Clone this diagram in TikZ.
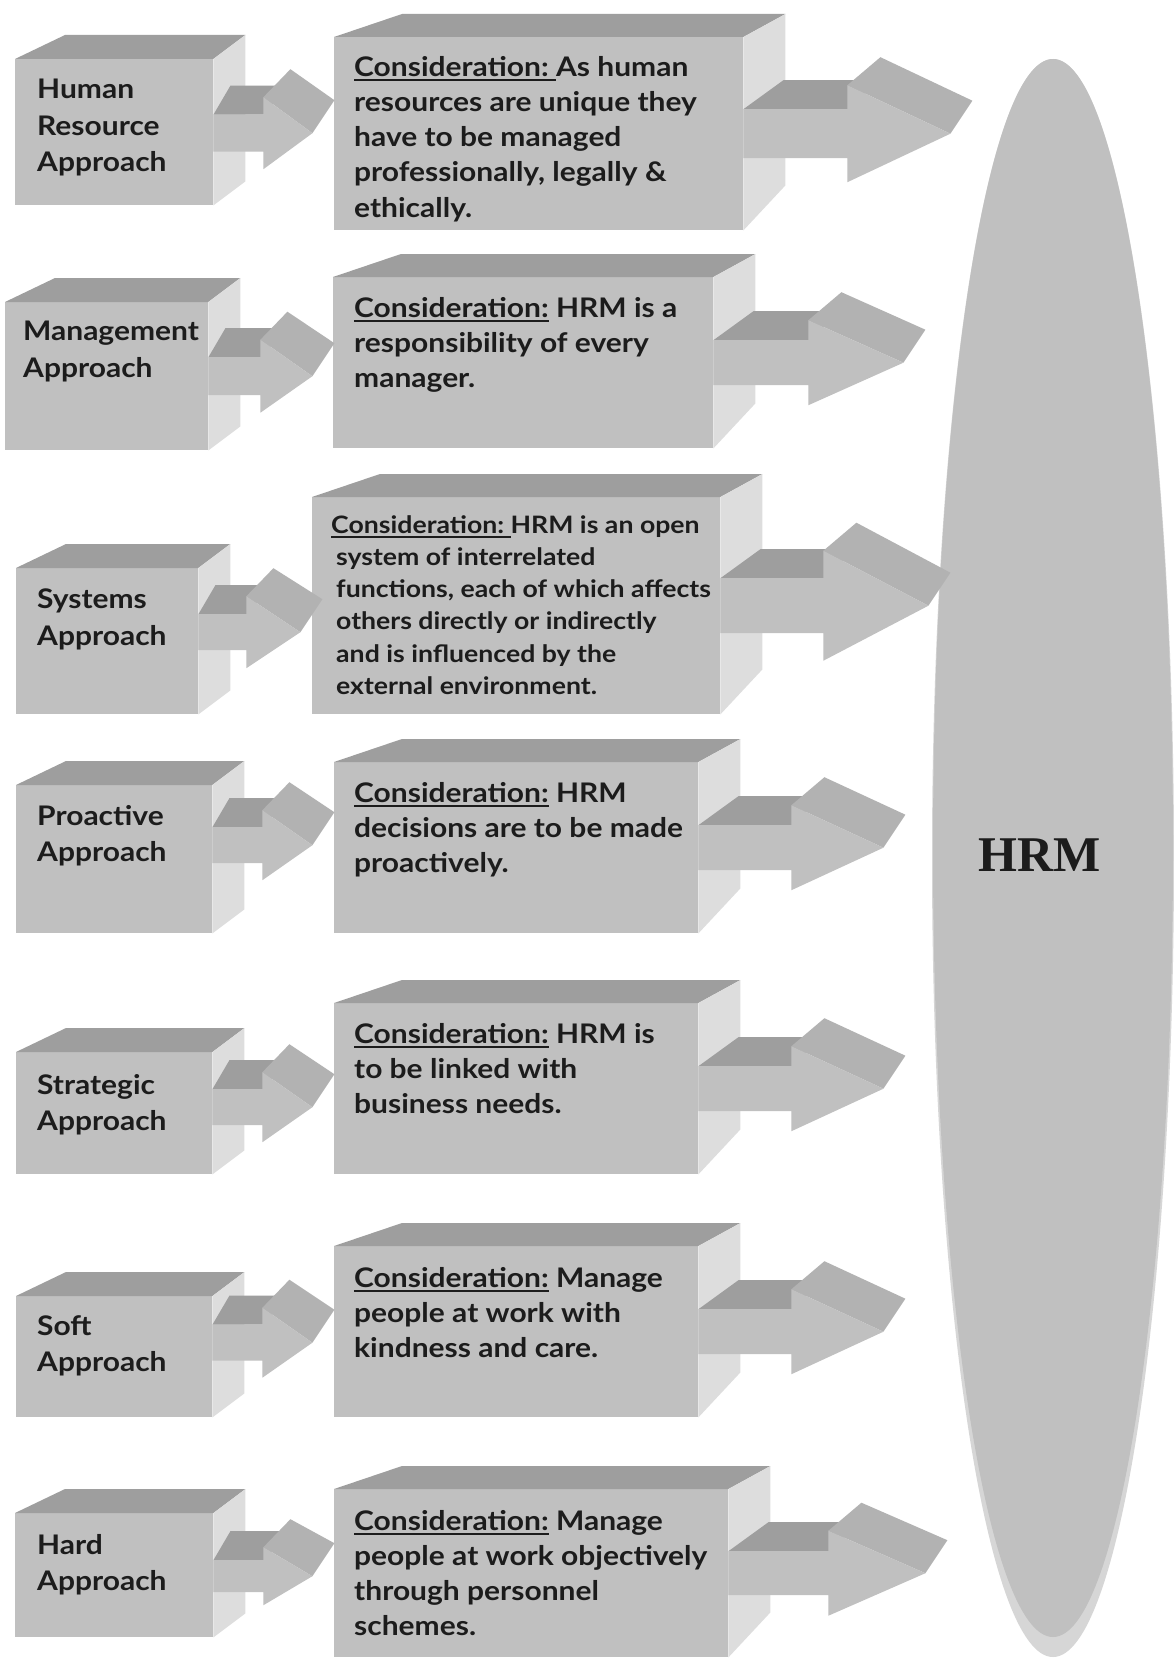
\documentclass[tikz,border=0pt]{standalone}
\usepackage{fontspec}
\setmainfont{Lato}[FakeStretch=1.11]
\newfontfamily\hrmfont{Liberation Serif}

\definecolor{facegray}{RGB}{192,192,192}
\definecolor{topgray}{RGB}{158,158,158}
\definecolor{sidegray}{RGB}{221,221,221}
\definecolor{headgray}{RGB}{178,178,178}
\definecolor{rimgray}{RGB}{214,214,214}
\definecolor{inkgray}{RGB}{28,28,28}

% underlined lead word
\newcommand{\consid}[1]{\setbox0\hbox{#1}\rlap{\rule[-5pt]{\wd0}{2pt}}\box0\relax}

% top and right faces of a box node
\newcommand{\boxfaces}[5]{%
  \fill[topgray] (#1.north west) -- (#1.north east) -- ([shift={(#3,-#4)}]#1.north east) -- ([shift={(#2,-#4)}]#1.north west) -- cycle;
  \fill[sidegray] (#1.north east) -- ([shift={(#3,-#4)}]#1.north east) -- ([shift={(#3,-#5)}]#1.south east) -- (#1.south east) -- cycle;
}

% 3d block arrow leaving a node
\newcommand{\blockarrow}[8]{%
  \begin{scope}[shift={([yshift=#2pt]#1.east)}]
    \fill[topgray] (0,-#5) -- (#3,-#5) -- (#3+#8,-#5-29) -- (#7,-#5-29) -- cycle;
    \fill[headgray] (#3,-#6) -- (#3+#4,0) -- (#3+#4+22,-33) -- (#3+#8,-#6-28) -- cycle;
    \fill[facegray] (0,-#5) -- (#3,-#5) -- (#3,-#6) -- (#3+#4,0) -- (#3,#6) -- (#3,#5) -- (0,#5) -- cycle;
  \end{scope}}

\tikzset{
  front/.style={fill=facegray, draw=none, inner sep=0pt, anchor=north west},
  disc/.style={ellipse, fill=facegray, inner sep=0pt, minimum width=240pt, minimum height=1578pt},
  lbl/.style={anchor=north west, inner sep=0pt, align=left, text=inkgray,
    font=\fontsize{27}{36.5}\selectfont\bfseries},
  constxt/.style={lbl, font=\fontsize{27}{35.2}\selectfont\bfseries},
  smalltxt/.style={lbl, font=\fontsize{24}{32.3}\selectfont\bfseries},
}
\usetikzlibrary{shapes.geometric}

\begin{document}
\begin{tikzpicture}[x=1pt, y=-1pt]
	\fill[white] (0,0) rectangle (1174,1659);
	\useasboundingbox (0,0) rectangle (1174,1659);

	% HRM disc
	\fill[rimgray] (1053,858) ellipse [x radius=121, y radius=799];
	\node[disc] (hrm) at (1053,848) {};
	\node[text=inkgray, font=\hrmfont\fontsize{50}{50}\selectfont\bfseries] (hrmlbl) at (1040,855) {HRM};

	% approach boxes
	\foreach \n/\x/\y/\w/\h in {
	l1/15/59/198/146, l2/5/302/203/148, l3/16/568/182/146, l4/16/785/196/148,
	l5/16/1052/196/122, l6/16/1296/196/121, l7/15/1513/198/124}
	{
		\node[front, minimum width=\w pt, minimum height=\h pt] (\n) at (\x,\y) {};
		\boxfaces{\n}{50}{32}{24}{24}
	};

	% consideration boxes
	\foreach \n/\x/\y/\w/\h in {
	c1/334/37/409/193, c2/333/277/380/171, c3/312/497/408/217, c4/334/762/364/171,
	c5/334/1003/364/171, c6/334/1246/364/171, c7/334/1489/394/168}
	{
		\node[front, minimum width=\w pt, minimum height=\h pt] (\n) at (\x,\y) {};
		\boxfaces{\n}{68}{42}{23}{45}
	};

	% arrows into the consideration boxes
	\foreach \n/\dy/\sl/\hl/\hs/\hh in {
	l1/-1/50/49/18.5/36, l2/0/52/52/19/36.5, l3/9/48/54/18/36, l4/14/50/50/18/35,
	l5/6/50/50/18/35, l6/14/50/50/18/35, l7/-1/50/49/16/29}
	{
		\blockarrow{\n}{\dy}{\sl}{\hl}{\hs}{\hh}{17}{27}
	};

	% arrows into the disc
	\foreach \n/\dy/\sl/\hl/\hs/\hh in {
	c1/0/104/103/24.5/48.5, c2/0/95/95/22.5/42.5, c3/0/103/105/27.5/55, c4/0/93/92/22.5/42.5,
	c5/0/93/92/22.5/42.5, c6/0/93/92/22.5/42.5, c7/0/100/97/22/42.5}
	{
		\blockarrow{\n}{\dy}{\sl}{\hl}{\hs}{\hh}{40}{33}
	};

	% texts
	\node[lbl] (lt1) at (37,79) {Human\\Resource\\Approach};
	\node[lbl] (lt2) at (23,321) {Management\\Approach};
	\node[lbl] (lt3) at (37,589) {Systems\\Approach};
	\node[lbl] (lt4) at (37,805) {Proactive\\Approach};
	\node[lbl] (lt5) at (37,1074) {Strategic\\Approach};
	\node[lbl] (lt6) at (37,1315) {Soft\\Approach};
	\node[lbl] (lt7) at (37,1534) {Hard\\Approach};

	\node[constxt] (ct1) at (354,56) {\consid{Consideration:\ }As human\\resources are unique they\\have to be managed\\professionally, legally \&\\ethically.};
	\node[constxt] (ct2) at (354,297) {\consid{Consideration:} HRM is a\\responsibility of every\\manager.};
	\node[smalltxt] (ct3) at (336,515) {\hspace*{-5pt}\consid{Consideration:\ }HRM is an open\\system of interrelated\\functions, each of which affects\\others directly or indirectly\\and is influenced by the\\external environment.};
	\node[constxt] (ct4) at (354,782) {\consid{Consideration:} HRM\\decisions are to be made\\proactively.};
	\node[constxt] (ct5) at (354,1023) {\consid{Consideration:} HRM is\\to be linked with\\business needs.};
	\node[constxt] (ct6) at (354,1267) {\consid{Consideration:} Manage\\people at work with\\kindness and care.};
	\node[constxt] (ct7) at (354,1510) {\consid{Consideration:} Manage\\people at work objectively\\through personnel\\schemes.};
\end{tikzpicture}
\end{document}
